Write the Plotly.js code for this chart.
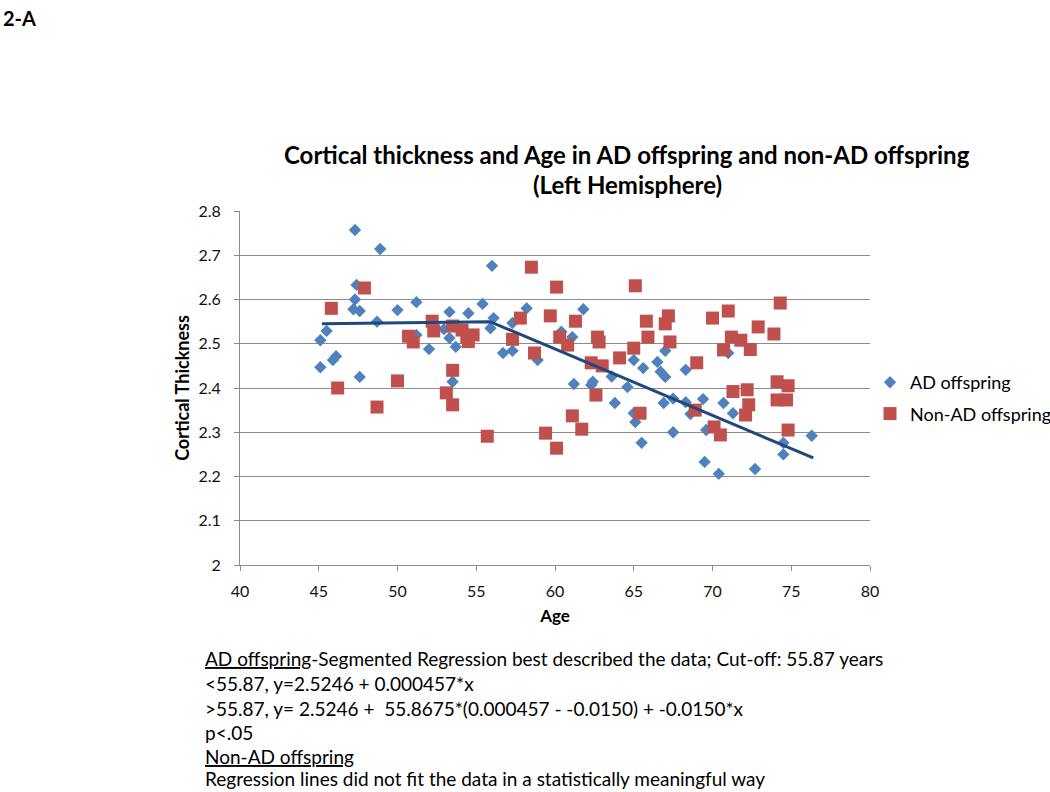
<!DOCTYPE html>
<html>
<head>
<meta charset="utf-8">
<script src="https://cdn.plot.ly/plotly-3.0.1.min.js"></script>
<style>html,body{margin:0;padding:0;background:#fff;}#chart{width:1050px;height:792px;}</style>
</head>
<body>
<div id="chart"></div>
<script>
// AD offspring (blue diamonds)
var adAge = [47.3, 48.9, 47.4, 47.3, 47.6, 47.2, 48.7, 50.0, 51.2, 45.1, 45.5, 45.9, 46.1, 45.1, 47.6,
  52.0, 53.3, 53.3, 53.7, 53.5, 51.2, 56.0, 54.5, 55.4, 56.1, 55.9, 58.2, 57.3, 56.7, 57.3, 58.9, 52.95,
  61.8, 60.4, 61.1, 61.2, 62.3, 62.4, 63.6, 64.6, 63.8, 65.0, 65.6, 65.0, 65.1, 65.5, 66.5, 67.0, 66.7,
  67.0, 66.9, 67.5, 67.5, 68.3, 68.3, 68.6, 69.4, 69.5, 69.6, 70.4, 70.7, 71.0, 71.3, 72.7, 74.5, 74.5, 76.3];
var adThick = [2.757, 2.714, 2.633, 2.600, 2.574, 2.578, 2.550, 2.576, 2.594, 2.508, 2.529, 2.463, 2.472, 2.447, 2.425,
  2.488, 2.572, 2.513, 2.493, 2.414, 2.520, 2.676, 2.569, 2.590, 2.558, 2.535, 2.580, 2.547, 2.479, 2.484, 2.463, 2.533,
  2.578, 2.527, 2.515, 2.409, 2.407, 2.414, 2.426, 2.402, 2.366, 2.463, 2.445, 2.343, 2.323, 2.276, 2.459, 2.484, 2.437,
  2.425, 2.366, 2.376, 2.300, 2.441, 2.368, 2.341, 2.375, 2.233, 2.305, 2.206, 2.366, 2.479, 2.343, 2.217, 2.276, 2.250, 2.292];

// Non-AD offspring (red squares)
var nonAge = [45.8, 47.9, 46.2, 48.7, 50.0, 52.2, 52.3, 50.7, 51.0, 53.5, 53.5, 53.1, 53.5, 58.5, 60.1, 57.8, 59.7,
  61.3, 54.1, 54.4, 54.8, 54.5, 57.3, 58.7, 60.3, 60.8, 62.7, 62.3, 55.7, 59.4, 60.1, 61.1, 61.7, 62.6, 65.1, 65.8,
  67.2, 67.0, 65.9, 67.3, 65.0, 62.8, 64.1, 63.0, 65.4, 69.0, 68.9, 70.0, 71.0, 70.7, 71.2, 71.3, 70.1, 70.5, 74.3,
  72.9, 73.9, 71.8, 72.4, 72.2, 72.3, 72.1, 74.1, 74.8, 74.1, 74.7, 74.8];
var nonThick = [2.580, 2.626, 2.400, 2.357, 2.416, 2.551, 2.529, 2.517, 2.504, 2.540, 2.440, 2.389, 2.362, 2.673, 2.628, 2.558, 2.563,
  2.551, 2.531, 2.515, 2.520, 2.505, 2.510, 2.479, 2.515, 2.497, 2.515, 2.457, 2.291, 2.298, 2.264, 2.337, 2.307, 2.384, 2.631, 2.551,
  2.563, 2.545, 2.515, 2.504, 2.490, 2.504, 2.468, 2.450, 2.343, 2.457, 2.350, 2.558, 2.574, 2.486, 2.515, 2.392, 2.312, 2.294, 2.592,
  2.538, 2.522, 2.508, 2.487, 2.396, 2.362, 2.339, 2.414, 2.405, 2.373, 2.373, 2.305];

// Segmented regression line for AD offspring (breakpoint 55.87)
var regAge = [45.2, 55.87, 76.4];
var regThick = [2.545, 2.550, 2.242];

var xTicks = [40, 45, 50, 55, 60, 65, 70, 75, 80];
var yTicks = [2, 2.1, 2.2, 2.3, 2.4, 2.5, 2.6, 2.7, 2.8];
var yTickText = ['2', '2.1', '2.2', '2.3', '2.4', '2.5', '2.6', '2.7', '2.8'];

var FONT = 'Lato, "Open Sans", sans-serif';

var traces = [
  {x: adAge, y: adThick, type: 'scatter', mode: 'markers', name: 'AD offspring', legendgroup: 'ad',
   marker: {symbol: 'diamond', size: 9.5, color: '#4F81BD', line: {width: 0}}},
  {x: nonAge, y: nonThick, type: 'scatter', mode: 'markers', name: 'Non-AD offspring', legendgroup: 'non',
   marker: {symbol: 'square', size: 13, color: '#C0504D', line: {width: 0}}},
  {x: regAge, y: regThick, type: 'scatter', mode: 'lines', name: 'Segmented regression', showlegend: false,
   line: {color: '#1F497D', width: 3}}
];

function ann(text, py, size, bold, xpx) {
  return {text: bold ? '<b>' + text + '</b>' : text, xref: 'paper', yref: 'paper',
    x: (xpx - 240) / 630, y: (565 - py) / 354, xanchor: 'left', yanchor: 'middle',
    showarrow: false, font: {family: FONT, size: size, color: '#000'}};
}

var annotations = [
  {text: '<b>Cortical thickness and Age in AD offspring and non-AD offspring</b>', xref: 'paper', yref: 'paper',
   x: (627 - 240) / 630, y: (565 - 155) / 354, xanchor: 'center', yanchor: 'middle', showarrow: false,
   font: {family: FONT, size: 24, color: '#000'}},
  {text: '<b>(Left Hemisphere)</b>', xref: 'paper', yref: 'paper',
   x: (627 - 240) / 630, y: (565 - 185) / 354, xanchor: 'center', yanchor: 'middle', showarrow: false,
   font: {family: FONT, size: 24, color: '#000'}},
  ann('2-A', 18, 20, true, 1),
  ann('<u>AD offspring</u>-Segmented Regression best described the data; Cut-off: 55.87 years', 658, 19, false, 203),
  ann('&lt;55.87, y=2.5246 + 0.000457*x', 683, 19, false, 203),
  ann('&gt;55.87, y= 2.5246 +  55.8675*(0.000457 - -0.0150) + -0.0150*x', 708, 19, false, 203),
  ann('p&lt;.05', 732, 19, false, 203),
  ann('<u>Non-AD offspring</u>', 756, 19, false, 203),
  ann('Regression lines did not fit the data in a statistically meaningful way', 778, 19, false, 203)
];

var layout = {
  width: 1050, height: 792,
  margin: {l: 240, r: 180, t: 211, b: 227},
  paper_bgcolor: '#fff', plot_bgcolor: '#fff',
  showlegend: true,
  font: {family: FONT, color: '#000'},
  xaxis: {range: [40, 80], tickvals: xTicks, ticktext: xTicks.map(String), showgrid: false, zeroline: false,
    showline: true, linecolor: '#8c8c8c', linewidth: 1, ticks: 'outside', ticklen: 5, tickcolor: '#8c8c8c',
    ticklabelstandoff: 7, automargin: false,
    tickfont: {family: FONT, size: 16, color: '#111'},
    title: {text: '<b>Age</b>', font: {family: FONT, size: 17, color: '#000'}, standoff: 10}},
  yaxis: {range: [2, 2.8], tickvals: yTicks, ticktext: yTickText, showgrid: true, gridcolor: '#8c8c8c', gridwidth: 1,
    zeroline: false, showline: true, linecolor: '#8c8c8c', linewidth: 1, ticks: 'outside', ticklen: 5, tickcolor: '#8c8c8c',
    ticklabelstandoff: 10, automargin: false,
    tickfont: {family: FONT, size: 16, color: '#111'},
    title: {text: '<b>Cortical Thickness</b>', font: {family: FONT, size: 18, color: '#000'}, standoff: 4}},
  legend: {xref: 'container', yref: 'container', x: 870 / 1050, xanchor: 'left', y: 1 - 398 / 792, yanchor: 'middle',
    font: {family: FONT, size: 18, color: '#000'},
    bgcolor: 'rgba(0,0,0,0)', borderwidth: 0, traceorder: 'grouped', tracegroupgap: 5},
  annotations: annotations
};

Plotly.newPlot('chart', traces, layout, {displayModeBar: false, staticPlot: true});
</script>
</body>
</html>
